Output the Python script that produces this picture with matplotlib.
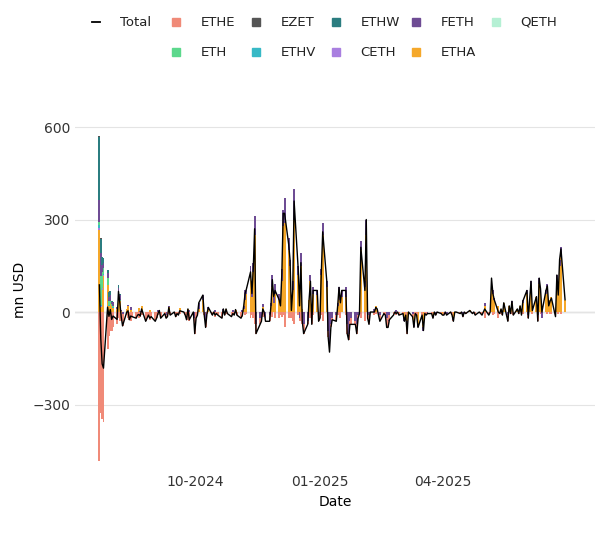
import numpy as np
import pandas as pd
import matplotlib.pyplot as plt
from matplotlib.lines import Line2D

# daily flows, mn USD (business days from 2024-07-23)
etha = [267, 17, 72, 118, 87, 20, 25,
        18, 14, 11, 48, 35, 3, 0, 9, 19, 0, 7, 0, 0, 0, 12, 0, 20, 0, 0, 0, 5, 0,
        0, 0, 0, 5, 0, 0, 0, 0, 15, 0, 0, 0, 0, 0, 12, 0, 0, 0, 10, 0, 0,
        0, 0, 0, 10, 40, 0, 0, 0, 10, 0, 0, 0, 0, 0, 0, 0, 0, 10, 0, 0, 0, 0, 8,
        0, 0, 0, 10, 40, 60, 110, 50, 130, 250, 0, 0, 0, 15, 0, 0, 0, 20, 80, 30, 60,
        40, 20, 100, 280, 290, 200, 150, 25, 70, 300, 120, 50, 150, 10, 0, 0, 40, 100, 0, 60, 55, 0,
        0, 120, 250, 80, 0, 0, 0, 0, 0, 20, 60, 40, 50, 50, 0, 0, 0, 0, 0, 0, 0, 0,
        200, 80, 250, 0, 0, 0, 0, 20, 10, 0, 0, 0, 0, 0, 0, 0, 0, 0, 0, 0,
        0, 0, -20, 0, -30, 0, 0, -30, 0, 0, -40, 0, -50, 0, 0, 0, 0, -10, 0, 0, 0,
        0, -10, 0, 0, 0, 0, 0, -20, 0, 0, 0, 0, 0, 0, 0, 5, 0, 0, 0, 0, 0,
        0, 0, 0, 20, 0, 0, 90, 60, 40, 20, 0, 10, 0, 30, 0, 20, 0, 30, 0, 10, 0,
        20, 0, 30, 60, 0, 40, 80, 10, 50, 0, 90, 70, 20, 60, 80, 20, 40, 50, 0, 100, 60,
        150, 180, 40]
ethe = [-484, -327, -346, -356, -120, -78, -60,
        -60, -47, -40, -20, -30, -20, -40, -10, -20, -25, -30, -15, -20, -10, -20, -15, -10, -30, -20, -10, -25, -15,
        -30, -20, -10, 0, -20, -5, -10, -15, -5, -10, 0, -15, -5, -10, -8, 0, -10, -25, 0, -30, 0,
        -50, -20, -10, 0, 0, -10, -20, -5, 0, -10, 0, -15, -5, -10, -20, 0, -10, 0, -5, -15, -10, -10, 0,
        -10, -20, -15, 0, -10, -5, -20, -10, -20, -40, -30, -20, -10, -15, 0, -10, -20, -10, -15, 0, -20,
        -20, -10, -15, -10, -50, -20, 0, -20, -30, -40, -10, -10, -30, -20, -30, -10, 0, -20, -30, -10, 0, -20,
        -20, -10, -30, 0, -20, -30, -10, -5, -20, -10, 0, -20, 0, -10, -30, -20, -10, -20, -10, -30, -10, -5,
        -20, -30, 0, -10, -20, 0, -10, -5, 0, -10, -20, -5, -10, -30, -20, -15, -10, 0, -10, 0,
        -10, -5, 0, -10, -20, 0, -10, 0, -5, -10, 0, -10, 0, -5, -10, 0, -5, -10, 0, -5, 0,
        -5, 0, -10, 0, -5, 0, -10, -5, 0, 0, -5, 0, -10, 0, -5, 0, 0, -5, 0, -10, 0,
        -5, -10, 0, -20, -10, 0, 0, -10, -5, -20, -5, 0, -10, 0, -20, 0, -5, 0, -10, 0, -5,
        0, -10, -5, 0, -10, 0, 0, -5, 0, -20, 0, -5, 0, 0, -5, 0, -5, -5, 0, 0, -5,
        0, -5, 0]
feth = [71, 74, 22, 15, 16, 12, 20,
        5, 10, 5, 20, 15, 2, -5, 0, 5, 0, 10, 0, 0, 0, 0, 2, 0, 0, 0, 0, 0, 0,
        0, 0, 5, 0, 0, 0, -10, 0, 5, 0, 0, 0, 0, 0, 0, 0, 0, 0, 0, 5, 0,
        -20, 0, 0, 20, 15, 0, -30, 0, 5, 0, 0, 5, 0, 0, 0, 10, 0, 0, 0, 0, 5, 0, 0,
        0, 0, 5, 10, 30, 20, 40, 20, 30, 60, -40, -20, -20, 10, 0, -20, -10, 10, 40, 20, 30,
        20, 10, 40, 50, 80, 40, 20, 0, 30, 100, 30, -20, 40, -20, -40, -30, 0, 20, -10, 20, 15, -10,
        0, 20, 40, 20, -60, -100, -40, -20, -10, 10, 20, 10, 20, 30, -40, -70, -30, -20, -30, -40, -10, 0,
        30, 20, 50, -10, -20, 0, 10, 0, 0, 0, -10, 0, 0, -20, -30, -10, 0, 0, 5, 0,
        0, 0, -10, 0, -20, 0, -5, -20, 0, 0, -10, 0, -10, 0, 0, -5, 0, 0, 0, -5, 0,
        0, 0, 0, 0, -5, 0, 0, -5, 0, 0, 0, 0, -5, 0, 0, 0, 0, 0, 0, 0, 0,
        0, 0, 0, 10, 0, 0, 20, 10, 5, 0, 0, 0, 0, 0, -10, 0, 0, 5, 0, 0, 0,
        0, 0, 10, 10, -10, 0, 20, 0, 0, -10, 20, 10, -20, 10, 10, 0, 0, 0, -15, 20, 0,
        20, 30, 0]
n = len(etha)
ethw_start = [204, 46, 25, 15, 11, 15, 12, 5, 3, 0, 8, 5]
eth_start = [10, 95, 50, 20, 20, 15, 10, 8, 5, 0, 10, 5]
ethv_start = [9, 3, 2, 4, 2, 2, 1, 0, 2, 0, 1, 0]
qeth_start = [1, 0, 1, 0, 0, 0, 0, 0, 0, 0, 0, 0]
ezet_start = [5, 3, 1, 0, 0, 0, 0, 0, 0, 0, 0, 0]
ceth_start = [5, 3, 5, 2, 0, 0, 0, 0, 0, 0, 0, 0]

def pad(v):
    return list(v) + [0] * (n - len(v))

series = {
    "ETHE": (ethe, "#f08a78"),
    "EZET": (pad(ezet_start), "#555555"),
    "ETHW": (pad(ethw_start), "#2b7d80"),
    "FETH": (feth, "#6e4c94"),
    "QETH": (pad(qeth_start), "#b5f0d4"),
    "ETH": (pad(eth_start), "#5cd88c"),
    "ETHV": (pad(ethv_start), "#37b9c6"),
    "CETH": (pad(ceth_start), "#a97fe0"),
    "ETHA": (etha, "#f5a82a"),
}

dates = pd.bdate_range("2024-07-23", periods=n)
fig = plt.figure(figsize=(6.09, 5.38), dpi=100)
ax = fig.add_axes([0.123, 0.126, 0.854, 0.67])

pos = np.zeros(n)
neg = np.zeros(n)
total = np.zeros(n)
# stack from the last series upwards (ETHA at the bottom)
for name in reversed(list(series.keys())):
    vals, col = series[name]
    v = np.array(vals, dtype=float)
    total += v
    b = np.where(v >= 0, pos, neg)
    m = v != 0
    ax.bar(dates[m], v[m], bottom=b[m], width=1.4, color=col, linewidth=0)
    pos += np.clip(v, 0, None)
    neg += np.clip(v, None, 0)

ax.plot(dates, total, color="black", lw=1.0)
ax.axhline(0, color="#555555", lw=0.8, zorder=0)
ax.set_ylim(-513, 656)
ax.set_xlim(pd.Timestamp("2024-07-05"), pd.Timestamp("2025-07-22"))
ax.set_yticks([-300, 0, 300, 600])
ax.grid(axis="y", color="#e4e4e4", lw=0.8)
ax.set_axisbelow(True)
ticks = pd.to_datetime(["2024-10-01", "2025-01-01", "2025-04-01"])
ax.set_xticks(ticks)
ax.set_xticklabels(["10-2024", "01-2025", "04-2025"])
for s in ax.spines.values():
    s.set_visible(False)
ax.tick_params(length=0, labelsize=10, colors="#333333")
ax.set_ylabel("mn USD", fontsize=10)
ax.set_xlabel("Date", fontsize=10)

# legend, laid out row by row as in the source
names = list(series.keys())
rows = [["Total"] + names[:5], [None] + names[5:]]
for r, row in enumerate(rows):
    y = 1 - (22 + 30 * r) / 538
    for c, name in enumerate(row):
        if name is None:
            continue
        x = (96 + 80 * c) / 609
        if name == "Total":
            fig.add_artist(Line2D([x - 0.006, x + 0.006], [y, y], color="black", lw=1.3))
        else:
            fig.add_artist(Line2D([x], [y], marker="s", ms=6, color=series[name][1], lw=0))
        fig.text(x + 0.04, y, name, fontsize=9.5, va="center", color="#222222")
fig.savefig("out.png", dpi=100)
